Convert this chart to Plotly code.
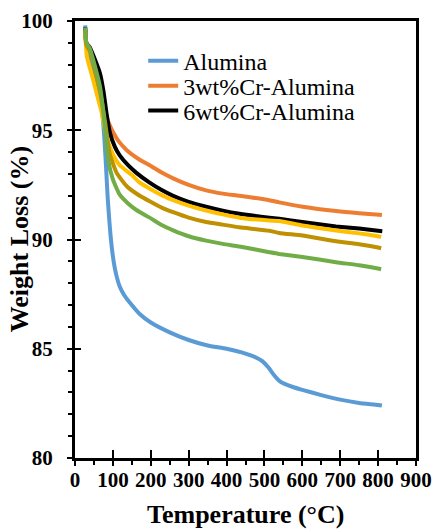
import plotly.graph_objects as go

# Temperature (°C) and weight (%)
alumina_T = [27, 29, 35, 45, 55, 65, 72, 78, 82, 86, 90, 94, 98, 102, 108, 118, 130, 145, 170, 200, 250, 300, 350, 400, 450, 480, 495, 510, 525, 540, 555, 575, 600, 650, 700, 750, 800, 810]
alumina_W = [99.8, 99.0, 98.6, 98.0, 97.3, 96.5, 95.8, 94.5, 93.3, 92.0, 91.0, 90.15, 89.5, 89.0, 88.45, 87.85, 87.45, 87.1, 86.6, 86.2, 85.75, 85.4, 85.15, 85.0, 84.78, 84.58, 84.42, 84.15, 83.8, 83.52, 83.38, 83.25, 83.12, 82.88, 82.67, 82.52, 82.43, 82.4]

cr3_T = [27, 30, 40, 50, 60, 70, 79, 90, 101, 115, 136, 171, 197, 230, 259, 300, 346, 390, 434, 513, 539, 601, 689, 750, 803, 810]
cr3_W = [99.6, 99.0, 98.6, 98.0, 97.3, 96.6, 95.8, 95.3, 94.9, 94.5, 94.1, 93.65, 93.4, 93.05, 92.8, 92.5, 92.25, 92.1, 92.0, 91.8, 91.7, 91.5, 91.3, 91.2, 91.13, 91.12]

cr6_T = [27, 30, 39, 50, 66, 75, 83, 92, 105, 118, 140, 162, 197, 230, 259, 300, 346, 390, 434, 513, 539, 600, 689, 750, 811]
cr6_W = [99.7, 99.0, 98.8, 98.35, 97.6, 96.8, 95.8, 94.9, 94.25, 93.85, 93.4, 93.05, 92.6, 92.25, 92.0, 91.72, 91.5, 91.32, 91.18, 91.0, 90.95, 90.8, 90.6, 90.5, 90.38]

yellow_T = [27, 31, 40, 48, 60, 70, 83, 100, 118, 150, 171, 200, 230, 259, 300, 346, 390, 434, 513, 539, 600, 689, 750, 803, 808]
yellow_W = [99.5, 98.4, 97.8, 97.3, 96.5, 95.85, 94.7, 93.9, 93.4, 92.95, 92.6, 92.3, 92.02, 91.8, 91.55, 91.33, 91.15, 91.0, 90.87, 90.85, 90.64, 90.41, 90.28, 90.14, 90.12]

gold_T = [27, 30, 40, 55, 70, 80, 92, 110, 136, 171, 197, 230, 259, 300, 346, 390, 434, 513, 539, 600, 689, 750, 803, 808]
gold_W = [99.6, 98.9, 98.6, 97.6, 96.4, 95.3, 93.9, 93.05, 92.45, 92.0, 91.75, 91.45, 91.25, 91.0, 90.8, 90.68, 90.56, 90.4, 90.3, 90.18, 89.92, 89.78, 89.62, 89.6]

green_T = [27, 30, 39, 50, 66, 75, 82, 88, 100, 118, 140, 162, 197, 230, 259, 300, 346, 390, 434, 513, 539, 600, 689, 750, 803, 808]
green_W = [99.7, 99.0, 98.75, 98.1, 97.0, 95.8, 94.6, 93.6, 92.75, 92.05, 91.65, 91.35, 91.0, 90.65, 90.42, 90.15, 89.95, 89.8, 89.68, 89.42, 89.34, 89.2, 88.96, 88.82, 88.66, 88.64]

x_ticks = [0, 100, 200, 300, 400, 500, 600, 700, 800, 900]
y_ticks = [80, 85, 90, 95, 100]

FONT = "'Liberation Serif', 'Times New Roman', Times, serif"
LW = 4

fig = go.Figure()
series = [
    ("Alumina", alumina_T, alumina_W, "#5B9BD5", "legend"),
    ("3wt%Cr-Alumina", cr3_T, cr3_W, "#ED7D31", "legend2"),
    ("6wt%Cr-Alumina", cr6_T, cr6_W, "#000000", "legend3"),
    ("s4", yellow_T, yellow_W, "#FFC000", None),
    ("s5", gold_T, gold_W, "#BF9000", None),
    ("s6", green_T, green_W, "#70AD47", None),
]
for name, t, w, c, lg in series:
    kw = dict(legend=lg) if lg else dict(showlegend=False)
    fig.add_trace(go.Scatter(x=t, y=w, mode="lines", name=name,
                             line=dict(color=c, width=LW, shape="spline", smoothing=0.5), **kw))

# invisible trace on overlay axes to carry the inside halves of the major ticks
fig.add_trace(go.Scatter(x=[None], y=[None], xaxis="x2", yaxis="y2", showlegend=False))

axis_common = dict(showgrid=False, zeroline=False, showline=True, linecolor="black", linewidth=3,
                   mirror=True, ticks="outside", tickcolor="black", tickwidth=2, ticklen=5,
                   automargin=False,
                   tickfont=dict(family=FONT, size=21, color="black", weight="bold"))

leg_common = dict(xanchor="left", yanchor="middle", bgcolor="rgba(0,0,0,0)",
                  font=dict(family=FONT, size=24, color="black"))

title_font = dict(family=FONT, size=26, color="black", weight="bold")

fig.update_layout(
    width=433, height=530,
    margin=dict(l=75, r=17, t=21, b=72),
    paper_bgcolor="white", plot_bgcolor="white",
    font=dict(family=FONT, color="black"),
    xaxis=dict(range=[0, 900], tickvals=x_ticks, ticktext=[str(v) for v in x_ticks],
               minor=dict(tickvals=[50, 150, 250, 350, 450, 550, 650, 750, 850], ticks="outside", ticklen=4, tickwidth=2, tickcolor="black"),
               ticklabelstandoff=-4,
               **axis_common),
    yaxis=dict(range=[80, 100], tickvals=y_ticks, ticktext=[str(v) for v in y_ticks],
               minor=dict(dtick=1, ticks="outside", ticklen=4, tickwidth=2, tickcolor="black"),
               ticklabelstandoff=10,
               **axis_common),
    xaxis2=dict(overlaying="x", range=[0, 900], tickvals=x_ticks, ticks="inside", ticklen=8, tickwidth=2,
                tickcolor="black", showticklabels=False, showgrid=False, zeroline=False, showline=False),
    yaxis2=dict(overlaying="y", range=[80, 100], tickvals=y_ticks, ticks="inside", ticklen=6, tickwidth=2,
                tickcolor="black", showticklabels=False, showgrid=False, zeroline=False, showline=False),
    legend=dict(x=0.2, y=0.908, **leg_common),
    legend2=dict(x=0.2, y=0.851, **leg_common),
    legend3=dict(x=0.2, y=0.794, **leg_common),
    showlegend=True,
    annotations=[
        dict(text="Temperature (°C)", xref="paper", yref="paper", x=0.5, y=-0.13,
             xanchor="center", yanchor="middle", showarrow=False, font=title_font),
        dict(text="Weight Loss (%)", xref="paper", yref="paper", x=-0.162, y=0.5, textangle=-90,
             xanchor="center", yanchor="middle", showarrow=False, font=title_font),
    ],
)

fig.write_html("out.html", config={"displayModeBar": False},
               post_script="document.body.style.margin='0';")
